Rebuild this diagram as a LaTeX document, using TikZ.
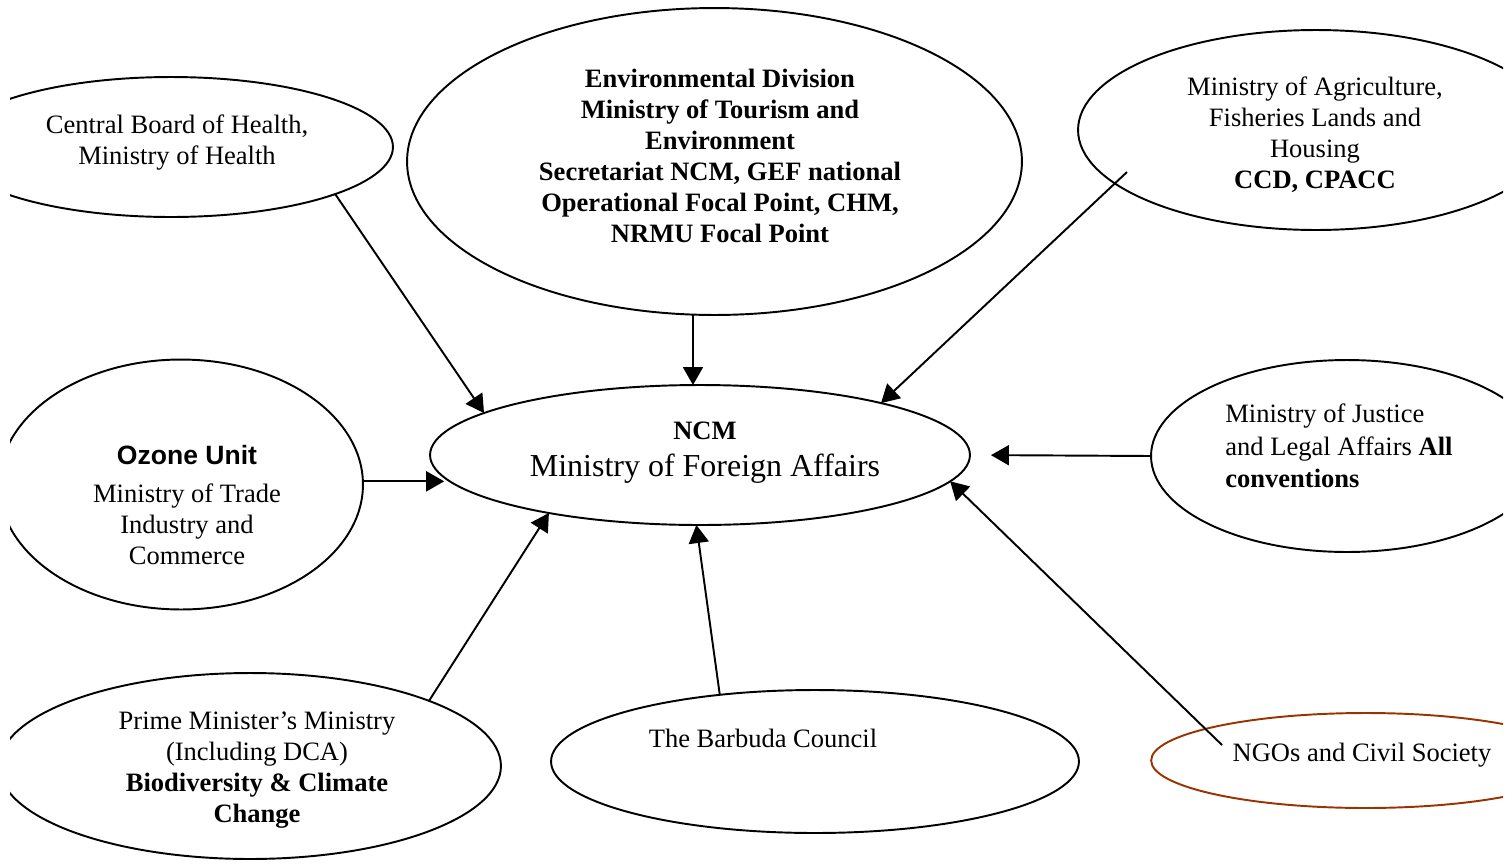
\documentclass[tikz,border=0pt]{standalone}
\usepackage{fontspec}
\setmainfont{Liberation Serif}
\newfontfamily\arialfont{Liberation Sans}
\usetikzlibrary{shapes.geometric,arrows.meta}
\definecolor{ngobrown}{RGB}{153,51,0}

\begin{document}
\begin{tikzpicture}[x=0.02cm,y=-0.02cm,
        unit/.style={draw,ellipse,line width=1.1pt,inner sep=0pt,outer sep=0pt},
        txt/.style={align=center,inner sep=0pt,font=\fontsize{15.1}{17.6}\selectfont},
        link/.style={line width=1.1pt,-{Triangle[length=0.36cm,width=0.4cm]}}]
        \useasboundingbox (0,0) rectangle (1509,863); %page
        \clip (10,0) rectangle (1503,863); %cut at the margins
        \node[unit,minimum width=8.88cm,minimum height=2.8cm] (cbh) at (171,147) {}; %central board of health
        \node[unit,minimum width=12.3cm,minimum height=6.14cm] (env) at (714.5,161.5) {}; %environmental division
        \node[unit,minimum width=9.52cm,minimum height=4cm] (agr) at (1316,130) {}; %agriculture
        \node[unit,minimum width=7.28cm,minimum height=5cm] (ozone) at (181,484.5) {}; %ozone unit
        \node[unit,minimum width=10.8cm,minimum height=2.8cm] (ncm) at (700,455) {}; %NCM
        \node[unit,minimum width=7.84cm,minimum height=3.84cm] (jus) at (1347,456) {}; %justice
        \node[unit,minimum width=10.04cm,minimum height=3.72cm] (pm) at (250,766) {}; %prime minister
        \node[unit,minimum width=10.56cm,minimum height=2.86cm] (bar) at (815,761.5) {}; %barbuda
        \node[unit,draw=ngobrown,minimum width=8.58cm,minimum height=1.9cm] (ngo) at (1365.6,760.5) {}; %NGOs
        \node[txt] (cbh-txt) at (177,142.5) {Central Board of Health,\\Ministry of Health};
        \node[txt,font=\fontsize{15.1}{17.6}\selectfont\bfseries] (env-txt) at (720,156) {Environmental Division\\Ministry of Tourism and\\Environment\\Secretariat NCM, GEF national\\Operational Focal Point, CHM,\\NRMU Focal Point};
        \node[txt] (agr-txt) at (1315,135) {Ministry of Agriculture,\\Fisheries Lands and\\Housing\\\textbf{CCD, CPACC}};
        \node[txt] (ozone-txt) at (187,505) {{\arialfont\bfseries Ozone Unit}\\[4pt]Ministry of Trade\\Industry and\\Commerce};
        \node[txt,font=\fontsize{18.2}{21}\selectfont] (ncm-txt) at (705,453) {{\fontsize{15.1}{17.6}\selectfont\bfseries NCM}\\Ministry of Foreign Affairs};
        \node[txt,align=left,anchor=west,font=\fontsize{15.1}{18.4}\selectfont] (jus-txt) at (1225,446) {Ministry of Justice\\and Legal Affairs \textbf{All}\\\textbf{conventions}};
        \node[txt] (pm-txt) at (257,770) {Prime Minister’s Ministry\\(Including DCA)\\\textbf{Biodiversity \& Climate}\\\textbf{Change}};
        \node[txt] (bar-txt) at (763,738) {The Barbuda Council};
        \node[txt] (ngo-txt) at (1362,755) {NGOs and Civil Society};
        \coordinate (agr-in) at (1127,172); %line starts inside the ellipse
        \coordinate (ngo-in) at (1222,745); %line starts inside the ellipse
        \draw[link] (cbh.-16.6) -- (ncm.169);
        \draw[link] (env.262.3) -- (env.262.3 |- ncm.north);
        \draw[link] (agr-in) -- (ncm.16);
        \draw[link] (ozone.1.4) -- (ozone.1.4 -| ncm.185.7);
        \draw[link,shorten >=0.42cm] (jus.west) -- (ncm.east); %stops short of NCM
        \draw[link] (pm.20.7) -- (ncm.201.1);
        \draw[link] (bar.145) -- (ncm.267.6);
        \draw[link] (ngo-in) -- (ncm.-6.8);
    \end{tikzpicture}
\end{document}
